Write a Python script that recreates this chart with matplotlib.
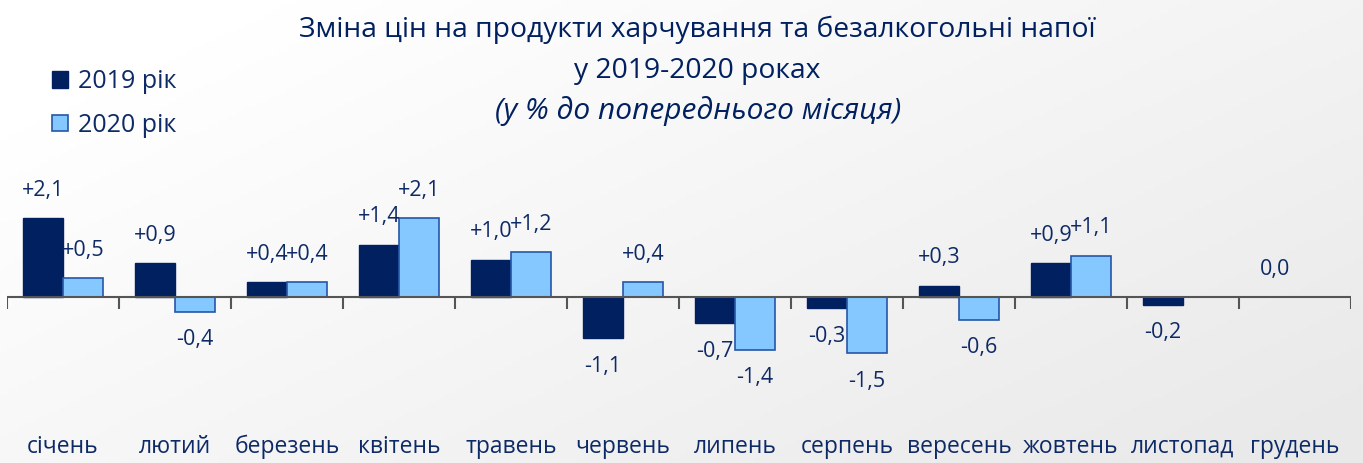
import numpy as np
import matplotlib
matplotlib.use('Agg')
import matplotlib.pyplot as plt
from matplotlib.transforms import blended_transform_factory

months = ['січень', 'лютий', 'березень', 'квітень', 'травень', 'червень',
          'липень', 'серпень', 'вересень', 'жовтень', 'листопад', 'грудень']
v2019 = [2.1, 0.9, 0.4, 1.4, 1.0, -1.1, -0.7, -0.3, 0.3, 0.9, -0.2, 0.0]
v2020 = [0.5, -0.4, 0.4, 2.1, 1.2, 0.4, -1.4, -1.5, -0.6, 1.1, None, None]
series_names = ['2019 рік', '2020 рік']

navy = '#002060'
light = '#85C8FF'
edge = '#2656A8'
txt = '#0E2A66'

plt.rcParams['font.family'] = ['Open Sans', 'DejaVu Sans']

W, H = 1363, 463
fig = plt.figure(figsize=(W / 100, H / 100), dpi=100)

# soft gradient background
bg = fig.add_axes([0, 0, 1, 1], zorder=-10)
gx = np.linspace(0, 1, 300)
gy = np.linspace(0, 1, 100)
GX, GY = np.meshgrid(gx, gy)
shade = 1.0 - 0.085 * np.clip(0.7 * GX + 0.5 * GY - 0.15, 0, 1)
bg.imshow(np.dstack([shade] * 3), aspect='auto', extent=[0, 1, 0, 1], origin='upper')
bg.axis('off')

zero_px, top_px, bot_px = 297, 150, 400
ppu = 37.5
ax = fig.add_axes([7 / W, (H - bot_px) / H, 1344 / W, (bot_px - top_px) / H])
ax.patch.set_alpha(0)
ax.set_ylim(-(bot_px - zero_px) / ppu, (zero_px - top_px) / ppu)
ax.set_xlim(-0.5, len(months) - 0.5)

x = np.arange(len(months))
bw = 40 / 112
y19 = np.array(v2019, dtype=float)
y20 = np.array([np.nan if v is None else v for v in v2020], dtype=float)

b1 = ax.bar(x - bw / 2, y19, bw, color=navy, edgecolor=navy, linewidth=1, label=series_names[0], zorder=3)
b2 = ax.bar(x + bw / 2, np.nan_to_num(y20), bw, color=light, edgecolor=edge, linewidth=1.2,
            label=series_names[1], zorder=3)
for bars, vals in [(b1, y19), (b2, y20)]:
    for i, v in enumerate(vals):
        if np.isnan(v) or v == 0:
            bars[i].set_visible(False)

def fmt(v):
    if v == 0:
        return '0,0'
    return ('+' if v > 0 else '-') + f'{abs(v):.1f}'.replace('.', ',')

for xs, vals in [(x - bw / 2, y19), (x + bw / 2, y20)]:
    for xi, v in zip(xs, vals):
        if np.isnan(v):
            continue
        off = -20 if v < 0 else 20
        ax.annotate(fmt(v), (xi, v), xytext=(0, off), textcoords='offset points',
                    ha='center', va='center', fontsize=15.5, color=txt)

# zero axis with tick marks at category borders
ax.axhline(0, color='#555555', lw=1.5, zorder=4)
ax.vlines(np.arange(len(months) + 1) - 0.5, -12 / ppu, 0, color='#555555', lw=1.5, zorder=4)
ax.axis('off')

tr = blended_transform_factory(ax.transData, fig.transFigure)
for xi, m in zip(x, months):
    ax.text(xi, (H - 447) / H, m, transform=tr, ha='center', va='center', fontsize=16.5, color=txt)

fig.text(697 / W, 1 - 30 / H, 'Зміна цін на продукти харчування та безалкогольні напої',
         ha='center', va='center', fontsize=20.3, color=navy)
fig.text(697 / W, 1 - 71 / H, 'у 2019-2020 роках', ha='center', va='center', fontsize=20.3, color=navy)
fig.text(698 / W, 1 - 111 / H, '(у % до попереднього місяця)', ha='center', va='center',
         fontsize=21.5, color=navy, style='italic')

fig.legend(handles=[b1, b2], labels=series_names, loc='upper left', bbox_to_anchor=(42 / W, 1 - 59 / H),
           frameon=False, fontsize=18, handlelength=0.65, handleheight=0.65, handletextpad=0.4,
           labelspacing=0.75, labelcolor=txt, borderaxespad=0)

fig.savefig('out.png', dpi=100)
